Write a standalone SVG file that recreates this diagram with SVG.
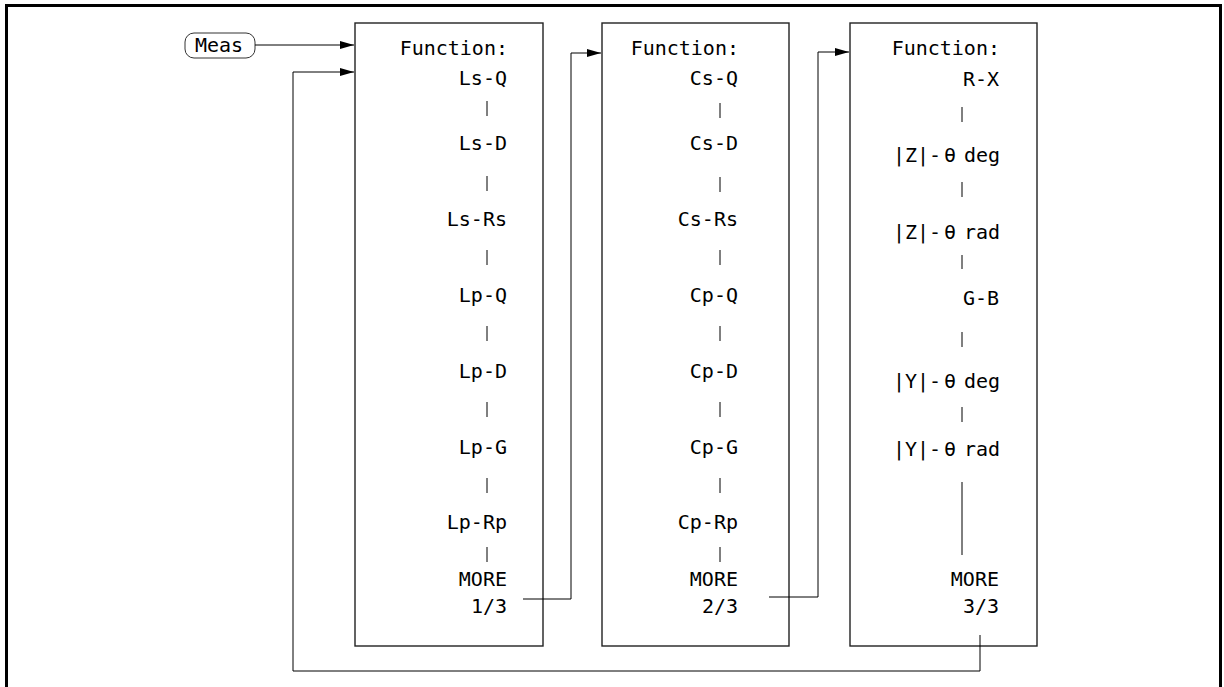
<svg xmlns="http://www.w3.org/2000/svg" width="1224" height="687" viewBox="0 0 1224 687">
  <defs>
    <marker id="arrow" markerUnits="userSpaceOnUse" markerWidth="15" markerHeight="9" refX="14" refY="4" orient="auto">
      <path d="M0,0 L14,4 L0,8 z" fill="#000"/>
    </marker>
    <style>
      .frame { fill: none; stroke: #000; stroke-width: 3; }
      .box { fill: #fff; stroke: #222; stroke-width: 1.4; }
      .wire { fill: none; stroke: #000; stroke-width: 1; }
      .tick { stroke: #000; stroke-width: 1; }
      .lbl { font-family: "DejaVu Sans Mono", "Liberation Mono", monospace; font-size: 20px; fill: #000; text-anchor: end; }
      .part { font-family: "DejaVu Sans Mono", "Liberation Mono", monospace; font-size: 20px; fill: #000; }
      .key { fill: #fff; stroke: #333; stroke-width: 1; }
    </style>
  </defs>

  <!-- outer frame, open at the bottom -->
  <path class="frame" d="M6.5,687 V5.5 H1220.5 V687"/>

  <!-- Meas key -->
  <g id="meas">
    <rect class="key" x="185" y="33" width="70" height="25" rx="9"/>
    <text class="part" x="219" y="52" text-anchor="middle" font-size="19">Meas</text>
  </g>

  <!-- menu page 1/3 -->
  <g id="page1">
    <rect class="box" x="355" y="23" width="188" height="623"/>
    <text class="lbl" x="508" y="55">Function:</text>
    <text class="lbl" x="507" y="85">Ls-Q</text>
    <text class="lbl" x="507" y="150">Ls-D</text>
    <text class="lbl" x="507" y="226">Ls-Rs</text>
    <text class="lbl" x="507" y="302">Lp-Q</text>
    <text class="lbl" x="507" y="378">Lp-D</text>
    <text class="lbl" x="507" y="454">Lp-G</text>
    <text class="lbl" x="507" y="529">Lp-Rp</text>
    <text class="lbl" x="507" y="586">MORE</text>
    <text class="lbl" x="507" y="613">1/3</text>
    <path class="tick" d="M487,101 V116 M487,176 V191 M487,250 V265 M487,326 V341 M487,402 V417 M487,478 V493 M487,547 V562"/>
  </g>

  <!-- menu page 2/3 -->
  <g id="page2">
    <rect class="box" x="602" y="23" width="187" height="623"/>
    <text class="lbl" x="739" y="55">Function:</text>
    <text class="lbl" x="738" y="85">Cs-Q</text>
    <text class="lbl" x="738" y="150">Cs-D</text>
    <text class="lbl" x="738" y="226">Cs-Rs</text>
    <text class="lbl" x="738" y="302">Cp-Q</text>
    <text class="lbl" x="738" y="378">Cp-D</text>
    <text class="lbl" x="738" y="454">Cp-G</text>
    <text class="lbl" x="738" y="529">Cp-Rp</text>
    <text class="lbl" x="738" y="586">MORE</text>
    <text class="lbl" x="738" y="613">2/3</text>
    <path class="tick" d="M720,103 V118 M720,177 V192 M720,250 V265 M720,326 V341 M720,402 V417 M720,478 V493 M720,547 V562"/>
  </g>

  <!-- menu page 3/3 -->
  <g id="page3">
    <rect class="box" x="850" y="23" width="187" height="623"/>
    <text class="lbl" x="1000" y="55">Function:</text>
    <text class="lbl" x="999" y="86">R-X</text>
    <text class="part" x="893" y="162">|Z|-</text>
    <text class="part" x="944" y="162">θ</text>
    <text class="lbl" x="1000" y="162">deg</text>
    <text class="part" x="893" y="239">|Z|-</text>
    <text class="part" x="944" y="239">θ</text>
    <text class="lbl" x="1000" y="239">rad</text>
    <text class="lbl" x="999" y="305">G-B</text>
    <text class="part" x="893" y="388">|Y|-</text>
    <text class="part" x="944" y="388">θ</text>
    <text class="lbl" x="1000" y="388">deg</text>
    <text class="part" x="893" y="456">|Y|-</text>
    <text class="part" x="944" y="456">θ</text>
    <text class="lbl" x="1000" y="456">rad</text>
    <text class="lbl" x="999" y="586">MORE</text>
    <text class="lbl" x="999" y="613">3/3</text>
    <path class="tick" d="M962,107 V122 M962,182 V197 M962,255 V269 M962,332 V347 M962,407 V422 M962,482 V555"/>
  </g>

  <!-- connectors -->
  <g id="connectors">
    <path class="wire" d="M255,45 H354" marker-end="url(#arrow)"/>
    <path class="wire" d="M523,599 H571 V53 H601" marker-end="url(#arrow)"/>
    <path class="wire" d="M769,597 H818 V52 H849" marker-end="url(#arrow)"/>
    <path class="wire" d="M980,635 V671 H293 V72 H354" marker-end="url(#arrow)"/>
  </g>
</svg>
